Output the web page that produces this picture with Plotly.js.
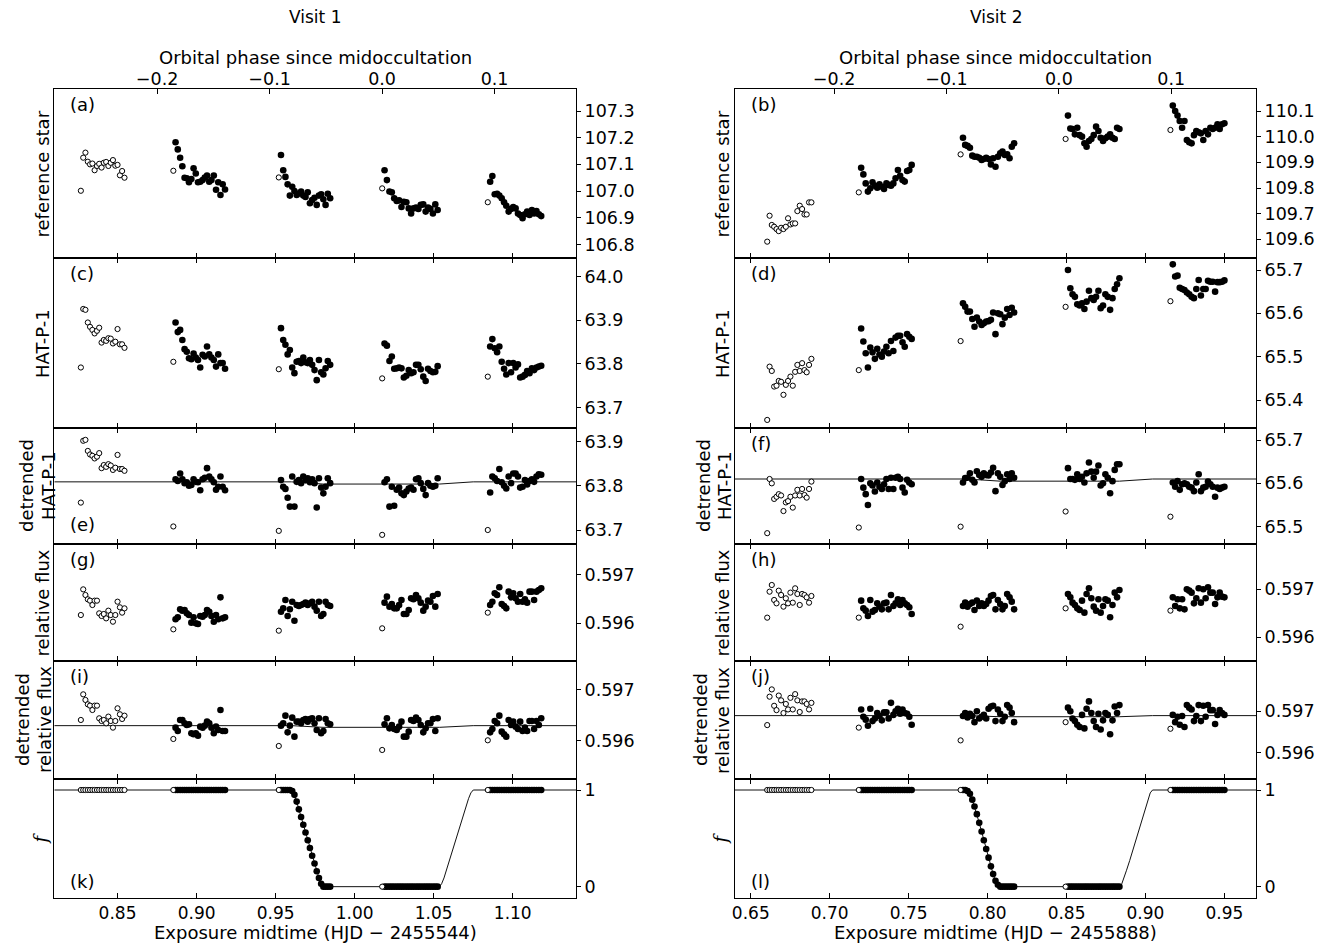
<!DOCTYPE html>
<html><head><meta charset="utf-8">
<script src="https://cdn.plot.ly/plotly-3.0.1.min.js"></script>
<style>html,body{margin:0;padding:0;background:#fff;}</style>
</head><body>
<div id="chart" style="width:1325px;height:943px;"></div>
<script>
// ---------------- DATA: Visit 1 ----------------
const v1_time = [
0.8268,0.8283,0.8297,0.8312,0.8326,0.8341,0.8355,0.8370,0.8384,0.8399,0.8413,0.8428,0.8442,0.8457,0.8471,0.8486,0.8500,0.8515,0.8529,0.8544,
0.8853,0.8867,0.8881,0.8896,0.8910,0.8924,0.8938,0.8952,0.8967,0.8981,0.8995,0.9009,0.9023,0.9038,0.9052,0.9066,0.9080,0.9094,0.9109,0.9123,0.9137,0.9151,0.9165,0.9180,
0.9520,0.9534,0.9548,0.9562,0.9576,0.9590,0.9605,0.9619,0.9633,0.9647,0.9661,0.9675,0.9689,0.9703,0.9717,0.9731,0.9746,0.9760,0.9774,0.9788,0.9802,0.9816,0.9830,0.9845,
1.0174,1.0189,1.0204,1.0220,1.0235,1.0250,1.0266,1.0281,1.0296,1.0311,1.0327,1.0342,1.0357,1.0372,1.0388,1.0403,1.0418,1.0434,1.0449,1.0464,1.0479,1.0495,1.0510,1.0525,
1.0842,1.0857,1.0871,1.0886,1.0901,1.0915,1.0930,1.0945,1.0959,1.0974,1.0989,1.1003,1.1018,1.1033,1.1047,1.1062,1.1077,1.1091,1.1106,1.1121,1.1135,1.1150,1.1165,1.1180];
const v1_orbitStarts = [0, 20, 44, 68, 92];
const v1_ref = [
107.001,107.125,107.144,107.110,107.100,107.103,107.078,107.094,107.102,107.088,107.106,107.109,107.094,107.106,107.116,107.095,107.098,107.059,107.075,107.050,
107.076,107.183,107.156,107.125,107.093,107.050,107.048,107.033,107.045,107.085,107.066,107.033,107.035,107.041,107.051,107.058,107.035,107.041,107.058,107.005,107.033,106.985,107.025,107.006,
107.051,107.135,107.078,107.053,107.025,106.983,107.016,107.000,106.985,106.991,106.998,106.983,106.978,106.995,106.954,106.966,106.975,106.948,106.983,106.988,106.969,106.948,106.990,106.973,
107.010,107.078,107.041,106.998,106.995,106.973,106.963,106.965,106.940,106.960,106.958,106.935,106.916,106.935,106.938,106.933,106.948,106.950,106.923,106.938,106.933,106.916,106.950,106.929,
106.958,107.035,107.056,106.988,106.990,106.983,106.973,106.958,106.945,106.923,106.933,106.940,106.935,106.916,106.910,106.898,106.913,106.923,106.910,106.929,106.916,106.925,106.913,106.906];
const v1_hat = [
63.792,63.926,63.924,63.895,63.885,63.878,63.870,63.876,63.883,63.849,63.855,63.853,63.859,63.858,63.847,63.851,63.880,63.845,63.845,63.837,
63.805,63.895,63.873,63.878,63.855,63.834,63.828,63.813,63.811,63.824,63.815,63.809,63.792,63.821,63.817,63.840,63.822,63.815,63.809,63.794,63.822,63.802,63.802,63.789,
63.788,63.882,63.855,63.844,63.822,63.832,63.792,63.779,63.805,63.807,63.802,63.815,63.804,63.802,63.809,63.798,63.786,63.763,63.809,63.781,63.776,63.790,63.807,63.798,
63.767,63.847,63.842,63.807,63.817,63.789,63.790,63.792,63.790,63.769,63.773,63.786,63.779,63.781,63.798,63.798,63.788,63.771,63.761,63.789,63.784,63.781,63.782,63.795,
63.771,63.840,63.857,63.836,63.827,63.840,63.805,63.789,63.776,63.802,63.781,63.802,63.792,63.799,63.769,63.771,63.775,63.784,63.779,63.790,63.786,63.792,63.794,63.796];
const v1_hatDet = [
63.762,63.902,63.904,63.879,63.871,63.868,63.862,63.866,63.874,63.840,63.847,63.843,63.849,63.846,63.836,63.841,63.870,63.838,63.838,63.834,
63.708,63.815,63.811,63.828,63.815,63.806,63.808,63.800,63.802,63.815,63.809,63.808,63.790,63.815,63.818,63.840,63.821,63.815,63.808,63.791,63.798,63.821,63.798,63.790,
63.698,63.813,63.798,63.793,63.773,63.753,63.821,63.753,63.809,63.813,63.806,63.821,63.813,63.817,63.808,63.815,63.806,63.751,63.817,63.796,63.783,63.798,63.817,63.806,
63.689,63.808,63.815,63.753,63.798,63.755,63.791,63.796,63.783,63.779,63.787,63.794,63.796,63.791,63.815,63.817,63.806,63.793,63.779,63.806,63.800,63.798,63.800,63.817,
63.700,63.785,63.821,63.817,63.811,63.838,63.808,63.800,63.794,63.821,63.806,63.828,63.828,63.821,63.796,63.798,63.813,63.803,63.811,63.815,63.809,63.821,63.826,63.825];
const v1_rel = [
0.596172,0.596703,0.596586,0.596497,0.596469,0.596379,0.596469,0.596469,0.596207,0.596152,0.596193,0.596103,0.596262,0.596172,0.596034,0.596172,0.596448,0.596331,0.596221,0.596310,
0.595876,0.596083,0.596124,0.596290,0.596262,0.596276,0.596207,0.596172,0.596014,0.596124,0.596000,0.595986,0.596152,0.596138,0.596172,0.596276,0.596241,0.596152,0.596034,0.596172,0.596083,0.596538,0.596103,0.596124,
0.595848,0.596241,0.596310,0.596483,0.596152,0.596290,0.596448,0.596055,0.596379,0.596359,0.596379,0.596400,0.596428,0.596379,0.596414,0.596448,0.596345,0.596262,0.596448,0.596152,0.596193,0.596448,0.596379,0.596359,
0.595897,0.596428,0.596552,0.596345,0.596400,0.596310,0.596310,0.596379,0.596483,0.596193,0.596193,0.596276,0.596517,0.596497,0.596586,0.596517,0.596428,0.596262,0.596345,0.596469,0.596448,0.596566,0.596345,0.596607,
0.596221,0.596379,0.596448,0.596621,0.596586,0.596745,0.596400,0.596359,0.596310,0.596655,0.596538,0.596621,0.596517,0.596448,0.596607,0.596448,0.596497,0.596428,0.596655,0.596655,0.596483,0.596655,0.596690,0.596724];
const v1_relDet = [
0.596408,0.596914,0.596803,0.596717,0.596691,0.596605,0.596691,0.596691,0.596441,0.596388,0.596408,0.596342,0.596474,0.596388,0.596257,0.596388,0.596638,0.596520,0.596428,0.596493,
0.596033,0.596257,0.596191,0.596408,0.596408,0.596342,0.596309,0.596322,0.596145,0.596125,0.596145,0.596099,0.596276,0.596257,0.596296,0.596375,0.596342,0.596257,0.596145,0.596276,0.596211,0.596605,0.596191,0.596191,
0.595895,0.596296,0.596342,0.596493,0.596164,0.596296,0.596454,0.596079,0.596375,0.596375,0.596342,0.596408,0.596428,0.596375,0.596428,0.596441,0.596342,0.596211,0.596441,0.596145,0.596191,0.596428,0.596342,0.596322,
0.595816,0.596322,0.596441,0.596243,0.596309,0.596230,0.596211,0.596276,0.596375,0.596079,0.596079,0.596178,0.596408,0.596388,0.596454,0.596408,0.596309,0.596164,0.596243,0.596342,0.596342,0.596428,0.596191,0.596441,
0.596007,0.596164,0.596230,0.596388,0.596342,0.596493,0.596178,0.596125,0.596079,0.596408,0.596309,0.596375,0.596276,0.596230,0.596375,0.596191,0.596257,0.596191,0.596388,0.596388,0.596230,0.596388,0.596309,0.596441];
const v1_f = [
1,1,1,1,1,1,1,1,1,1,1,1,1,1,1,1,1,1,1,1,
1,1,1,1,1,1,1,1,1,1,1,1,1,1,1,1,1,1,1,1,1,1,1,1,
1,1,1,1,1,1,0.99,0.95,0.88,0.80,0.72,0.64,0.56,0.48,0.40,0.32,0.24,0.16,0.09,0.03,0,0,0,0,
0,0,0,0,0,0,0,0,0,0,0,0,0,0,0,0,0,0,0,0,0,0,0,0,
1,1,1,1,1,1,1,1,1,1,1,1,1,1,1,1,1,1,1,1,1,1,1,1];
// eclipse model curves (visit 1)
const v1_modelTime = [0.81,0.9595,0.9605,0.9619,0.9633,0.9647,0.9661,0.9675,0.9689,0.9703,0.9717,0.9731,0.9746,0.9760,0.9774,0.9788,0.9805,1.0536,1.0550,1.0565,1.0580,1.0600,1.0620,1.0640,1.0660,1.0680,1.0700,1.0720,1.0735,1.0750,1.14];
const v1_modelF = [1,1,0.99,0.95,0.88,0.80,0.72,0.64,0.56,0.48,0.40,0.32,0.24,0.16,0.09,0.03,0,0,0.03,0.09,0.17,0.27,0.38,0.49,0.60,0.71,0.82,0.91,0.97,1,1];
const v1_detTime = [0.81,0.960,0.980,1.0536,1.075,1.14];
const v1_hatModel = [63.809,63.809,63.804,63.804,63.809,63.809];
const v1_relModel = [0.596296,0.596296,0.596263,0.596263,0.596296,0.596296];

// ---------------- DATA: Visit 2 ----------------
const v2_time = [
0.6604,0.6619,0.6633,0.6648,0.6663,0.6677,0.6692,0.6707,0.6722,0.6736,0.6751,0.6766,0.6781,0.6795,0.6810,0.6825,0.6840,0.6854,0.6869,0.6884,
0.7184,0.7199,0.7213,0.7228,0.7242,0.7257,0.7271,0.7286,0.7301,0.7315,0.7330,0.7344,0.7359,0.7373,0.7388,0.7403,0.7417,0.7432,0.7446,0.7461,0.7475,0.7490,0.7504,0.7519,
0.7829,0.7844,0.7858,0.7873,0.7888,0.7903,0.7917,0.7932,0.7947,0.7962,0.7976,0.7991,0.8006,0.8021,0.8035,0.8050,0.8065,0.8080,0.8094,0.8109,0.8124,0.8139,0.8153,0.8168,
0.8494,0.8509,0.8524,0.8538,0.8553,0.8568,0.8583,0.8598,0.8613,0.8627,0.8642,0.8657,0.8672,0.8687,0.8702,0.8716,0.8731,0.8746,0.8761,0.8776,0.8791,0.8805,0.8820,0.8835,
0.9158,0.9173,0.9188,0.9203,0.9217,0.9232,0.9247,0.9262,0.9277,0.9292,0.9307,0.9322,0.9337,0.9351,0.9366,0.9381,0.9396,0.9411,0.9426,0.9441,0.9456,0.9470,0.9485,0.9500];
const v2_orbitStarts = [0, 20, 44, 68, 92];
const v2_ref = [
109.591,109.692,109.656,109.649,109.640,109.632,109.645,109.640,109.649,109.682,109.658,109.662,109.662,109.710,109.731,109.718,109.697,109.697,109.744,109.744,
109.783,109.879,109.853,109.818,109.786,109.799,109.822,109.809,109.801,109.814,109.805,109.796,109.818,109.812,109.809,109.818,109.838,109.870,109.848,109.831,109.825,109.866,109.870,109.890,
109.931,109.996,109.968,109.964,109.957,109.926,109.922,109.922,109.918,109.909,109.913,109.918,109.913,109.892,109.916,109.883,109.922,109.935,109.942,109.929,109.931,109.916,109.961,109.974,
109.991,110.082,110.032,110.030,110.009,110.035,110.006,110.000,109.974,109.961,109.983,109.991,110.006,110.039,110.022,109.996,109.983,109.994,110.000,110.009,109.996,109.991,110.035,110.030,
110.026,110.121,110.100,110.082,110.061,110.035,110.061,109.987,109.978,109.974,110.006,110.022,110.017,110.013,109.987,110.022,110.009,110.035,110.030,110.035,110.048,110.030,110.048,110.052];
const v2_hat = [
65.354,65.477,65.467,65.431,65.433,65.444,65.442,65.412,65.435,65.444,65.454,65.433,65.465,65.481,65.467,65.485,65.469,65.464,65.481,65.495,
65.469,65.565,65.535,65.508,65.475,65.521,65.510,65.495,65.518,65.505,65.500,65.512,65.523,65.508,65.536,65.513,65.544,65.548,65.548,65.533,65.523,65.552,65.546,65.541,
65.536,65.623,65.615,65.604,65.604,65.587,65.569,65.590,65.581,65.573,65.577,65.581,65.582,65.585,65.602,65.552,65.600,65.598,65.575,65.590,65.610,65.596,65.613,65.602,
65.615,65.700,65.658,65.644,65.638,65.621,65.618,65.623,65.610,65.627,65.652,65.635,65.631,65.638,65.652,65.612,65.618,65.644,65.638,65.608,65.635,65.656,65.667,65.681,
65.628,65.713,65.685,65.687,65.659,65.656,65.654,65.648,65.644,65.638,65.635,65.656,65.677,65.641,65.656,65.656,65.675,65.673,65.673,65.650,65.672,65.672,65.673,65.676];
const v2_hatDet = [
65.485,65.610,65.600,65.564,65.569,65.575,65.572,65.536,65.556,65.559,65.569,65.544,65.572,65.585,65.572,65.587,65.573,65.567,65.587,65.604,
65.498,65.610,65.590,65.575,65.550,65.600,65.595,65.581,65.602,65.592,65.587,65.598,65.610,65.587,65.613,65.587,65.613,65.615,65.610,65.590,65.579,65.608,65.602,65.598,
65.500,65.602,65.612,65.613,65.623,65.608,65.602,65.628,65.619,65.615,65.623,65.619,65.618,65.625,65.636,65.582,65.623,65.615,65.596,65.605,65.621,65.610,65.623,65.613,
65.535,65.635,65.610,65.610,65.608,65.621,65.610,65.615,65.602,65.623,65.648,65.627,65.613,65.627,65.641,65.595,65.600,65.621,65.613,65.577,65.605,65.631,65.644,65.644,
65.523,65.602,65.592,65.605,65.585,65.598,65.600,65.598,65.592,65.590,65.582,65.602,65.621,65.582,65.590,65.592,65.604,65.598,65.592,65.569,65.590,65.587,65.590,65.592];
const v2_rel = [
0.596410,0.596951,0.597090,0.596778,0.596708,0.596972,0.596882,0.596639,0.596813,0.596708,0.596931,0.596722,0.597021,0.596903,0.596674,0.596903,0.596882,0.596833,0.596722,0.596861,
0.596410,0.596764,0.596604,0.596556,0.596444,0.596778,0.596535,0.596569,0.596708,0.596639,0.596583,0.596708,0.596722,0.596583,0.596882,0.596653,0.596708,0.596792,0.596674,0.596778,0.596708,0.596674,0.596625,0.596486,
0.596222,0.596653,0.596722,0.596639,0.596694,0.596722,0.596569,0.596764,0.596653,0.596708,0.596653,0.596694,0.596764,0.596861,0.596882,0.596583,0.596778,0.596694,0.596583,0.596653,0.596903,0.596833,0.596743,0.596583,
0.596604,0.596903,0.596833,0.596722,0.596674,0.596604,0.596569,0.596764,0.596514,0.596903,0.597021,0.596813,0.596639,0.596556,0.596792,0.596514,0.596653,0.596792,0.596764,0.596417,0.596674,0.596931,0.596833,0.596986,
0.596556,0.596833,0.596653,0.596792,0.596604,0.596792,0.596583,0.597000,0.596972,0.596931,0.596708,0.596813,0.597021,0.596722,0.597000,0.596813,0.597042,0.596931,0.596931,0.596694,0.596833,0.596931,0.596847,0.596833];
const v2_relDet = [
0.596664,0.597354,0.597531,0.597133,0.597027,0.597381,0.597265,0.596956,0.597177,0.597044,0.597327,0.597044,0.597416,0.597265,0.596982,0.597239,0.597239,0.597177,0.597044,0.597204,
0.596602,0.597044,0.596867,0.596796,0.596646,0.597062,0.596761,0.596823,0.596956,0.596885,0.596779,0.596973,0.596973,0.596823,0.597204,0.596912,0.597000,0.597062,0.596938,0.597044,0.596956,0.596938,0.596867,0.596673,
0.596292,0.596885,0.596956,0.596850,0.596938,0.596885,0.596735,0.597000,0.596823,0.596867,0.596912,0.596823,0.597062,0.597115,0.597133,0.596761,0.597044,0.596938,0.596761,0.596867,0.597150,0.597088,0.596956,0.596735,
0.596735,0.597088,0.597000,0.596823,0.596761,0.596673,0.596619,0.596912,0.596584,0.597062,0.597239,0.596956,0.596761,0.596619,0.596938,0.596558,0.596779,0.596956,0.596912,0.596442,0.596779,0.597115,0.596956,0.597150,
0.596575,0.596912,0.596735,0.596867,0.596673,0.596885,0.596619,0.597150,0.597088,0.597044,0.596761,0.596885,0.597150,0.596761,0.597133,0.596867,0.597150,0.597027,0.597027,0.596690,0.596912,0.597027,0.596956,0.596912];
const v2_f = [
1,1,1,1,1,1,1,1,1,1,1,1,1,1,1,1,1,1,1,1,
1,1,1,1,1,1,1,1,1,1,1,1,1,1,1,1,1,1,1,1,1,1,1,1,
1,1,1,0.99,0.96,0.90,0.83,0.75,0.66,0.57,0.48,0.39,0.30,0.21,0.13,0.06,0.02,0,0,0,0,0,0,0,
0,0,0,0,0,0,0,0,0,0,0,0,0,0,0,0,0,0,0,0,0,0,0,0,
1,1,1,1,1,1,1,1,1,1,1,1,1,1,1,1,1,1,1,1,1,1,1,1];
const v2_modelTime = [0.64,0.7868,0.7873,0.7888,0.7903,0.7917,0.7932,0.7947,0.7962,0.7976,0.7991,0.8006,0.8021,0.8035,0.8050,0.8065,0.8082,0.8835,0.8850,0.8865,0.8880,0.8900,0.8920,0.8940,0.8960,0.8980,0.9000,0.9015,0.9030,0.9045,0.97];
const v2_modelF = [1,1,0.99,0.96,0.90,0.83,0.75,0.66,0.57,0.48,0.39,0.30,0.21,0.13,0.06,0.02,0,0,0.03,0.09,0.17,0.27,0.38,0.49,0.60,0.71,0.82,0.91,0.97,1,1];
const v2_detTime = [0.64,0.787,0.808,0.8835,0.9045,0.97];
const v2_hatModel = [65.610,65.610,65.605,65.605,65.610,65.610];
const v2_relModel = [0.596894,0.596894,0.596867,0.596867,0.596894,0.596894];

// ---------------- Tick labels ----------------
const v1_timeTicks = [0.85,0.90,0.95,1.00,1.05,1.10];
const v1_timeTickText = ['0.85','0.90','0.95','1.00','1.05','1.10'];
const v2_timeTicks = [0.65,0.70,0.75,0.80,0.85,0.90,0.95];
const v2_timeTickText = ['0.65','0.70','0.75','0.80','0.85','0.90','0.95'];
const phaseTicks = [-0.2,-0.1,0.0,0.1];
const phaseTickText = ['\u22120.2','\u22120.1','0.0','0.1'];
const v1_refTicks = [106.8,106.9,107.0,107.1,107.2,107.3];
const v2_refTicks = [109.6,109.7,109.8,109.9,110.0,110.1];
const v1_hatTicks = [63.7,63.8,63.9,64.0];
const v2_hatTicks = [65.4,65.5,65.6,65.7];
const v1_hatDetTicks = [63.7,63.8,63.9];
const v2_hatDetTicks = [65.5,65.6,65.7];
const fluxTicks = [0.596,0.597];
const fTicks = [0,1];
const rowLabels = [['reference star'],['HAT-P-1'],['detrended','HAT-P-1'],['relative flux'],['detrended','relative flux'],['<i>f</i>']];
const panelLetters = ['(a)','(b)','(c)','(d)','(e)','(f)','(g)','(h)','(i)','(j)','(k)','(l)'];

// ---------------- Layout helpers ----------------
const W = 1325, H = 943;
const FONT = 'DejaVu Sans, Verdana, sans-serif';
const colPx = [[54.3, 576], [735, 1256]];
const rowPx = [[89,258],[258,428],[428,544],[544,661],[661,779],[779,898]];
const xRanges = [[0.81,1.14],[0.64,0.97]];
const phaseRanges = [[-0.2914,0.1724],[-0.2882,0.1754]];
const yRanges = [
  [[106.749,107.3825],[109.5273,110.1857]],
  [[63.6534,64.0427],[65.3354,65.7277]],
  [[63.6683,63.9309],[65.4600,65.7277]],
  [[0.595221,0.597641],[0.595507,0.597944]],
  [[0.595243,0.597572],[0.595354,0.598221]],
  [[-0.1172,1.1138],[-0.1172,1.1138]]
];
// centre x (px) of each row-label line, per column
const labelCentres = [
  [[42],[42],[27,49],[42],[22,44],[40]],
  [[722],[722],[704,725],[722],[700,722],[720]]
];
const visits = [
  {time:v1_time, starts:v1_orbitStarts, series:[v1_ref,v1_hat,v1_hatDet,v1_rel,v1_relDet,v1_f],
   lines:[null,null,[v1_detTime,v1_hatModel],null,[v1_detTime,v1_relModel],[v1_modelTime,v1_modelF]],
   yticks:[v1_refTicks,v1_hatTicks,v1_hatDetTicks,fluxTicks,fluxTicks,fTicks],
   xticks:v1_timeTicks, xtext:v1_timeTickText, xlabel:'Exposure midtime (HJD \u2212 2455544)', title:'Visit 1'},
  {time:v2_time, starts:v2_orbitStarts, series:[v2_ref,v2_hat,v2_hatDet,v2_rel,v2_relDet,v2_f],
   lines:[null,null,[v2_detTime,v2_hatModel],null,[v2_detTime,v2_relModel],[v2_modelTime,v2_modelF]],
   yticks:[v2_refTicks,v2_hatTicks,v2_hatDetTicks,fluxTicks,fluxTicks,fTicks],
   xticks:v2_timeTicks, xtext:v2_timeTickText, xlabel:'Exposure midtime (HJD \u2212 2455888)', title:'Visit 2'}
];
function fmtTick(v, row){
  if (row===5) return String(v);
  if (row>=3) return v.toFixed(3);
  return v.toFixed(1);
}
const px2x = p => p / W;
const px2y = p => 1 - p / H;

const traces = [];
const layout = {
  width: W, height: H, margin:{l:0,r:0,t:0,b:0},
  paper_bgcolor:'#fff', plot_bgcolor:'#fff', showlegend:false,
  font:{family:FONT, size:18, color:'#000'},
  annotations:[]
};
const tickFont = {family:FONT, size:17.5, color:'#000'};
const bottomTickFont = {family:FONT, size:17, color:'#000'};

for (let row=0; row<6; row++){
  for (let col=0; col<2; col++){
    const p = row*2 + col, n = p+1;
    const xs = n===1 ? '' : String(n);
    const V = visits[col];
    const xName = 'x'+xs, yName = 'y'+xs;
    layout['xaxis'+xs] = {
      domain:[px2x(colPx[col][0]), px2x(colPx[col][1])], anchor:yName,
      range:xRanges[col], autorange:false, showline:true, linecolor:'#000', linewidth:1,
      mirror: row===0 ? true : 'ticks', ticks:'inside', ticklen:5, tickwidth:1, tickcolor:'#000',
      tickmode:'array', tickvals:V.xticks, ticktext:V.xtext, showticklabels: row===5,
      tickfont:bottomTickFont, showgrid:false, zeroline:false, fixedrange:true
    };
    const yt = V.yticks[row];
    layout['yaxis'+xs] = {
      domain:[px2y(rowPx[row][1]), px2y(rowPx[row][0])], anchor:xName, side:'right',
      range:yRanges[row][col], autorange:false, showline:true, linecolor:'#000', linewidth:1,
      mirror:true, ticks:'outside', ticklen:4, tickwidth:1, tickcolor:'#000',
      tickmode:'array', tickvals:yt, ticktext:yt.map(v=>fmtTick(v,row)),
      tickfont:tickFont, showgrid:false, zeroline:false, fixedrange:true
    };
    // model line
    const ln = V.lines[row];
    if (ln){
      traces.push({type:'scatter', mode:'lines', x:ln[0], y:ln[1], xaxis:xName, yaxis:yName,
        line:{color:'#111', width:1}, hoverinfo:'skip'});
    }
    // points
    const ys = V.series[row];
    const ox=[], oy=[], fx=[], fy=[];
    V.time.forEach((t,i)=>{
      const excluded = i < V.starts[1] || V.starts.includes(i);
      if (excluded){ ox.push(t); oy.push(ys[i]); } else { fx.push(t); fy.push(ys[i]); }
    });
    traces.push({type:'scatter', mode:'markers', x:fx, y:fy, xaxis:xName, yaxis:yName,
      marker:{symbol:'circle', size:6.6, color:'#000', line:{width:0}}, hoverinfo:'skip'});
    traces.push({type:'scatter', mode:'markers', x:ox, y:oy, xaxis:xName, yaxis:yName,
      marker:{symbol:'circle', size:5.2, color:'#fff', line:{color:'#000', width:1}}, hoverinfo:'skip'});

    // panel letter
    const bottomLetter = (p===4 || p===10 || p===11);
    const ly = bottomLetter ? (rowPx[row][1] - (p===4 ? 20 : 17)) : (rowPx[row][0] + 15);
    layout.annotations.push({text:panelLetters[p], xref:'paper', yref:'paper',
      x:px2x(colPx[col][0]+14), y:px2y(ly), xanchor:'left', yanchor:'middle', showarrow:false,
      font:{family:FONT, size:18, color:'#000'}});
    // row label lines (left of panel)
    const isF = row===5;
    rowLabels[row].forEach((txt, k)=>{
      layout.annotations.push({text:txt, xref:'paper', yref:'paper',
        x:px2x(labelCentres[col][row][k]), y:px2y((rowPx[row][0]+rowPx[row][1])/2),
        xanchor:'center', yanchor:'middle', textangle:-90, showarrow:false,
        font:{family: isF ? 'DejaVu Serif, serif' : FONT, size:18, color:'#000'}});
    });
  }
}
// top orbital-phase axes
[0,1].forEach(col=>{
  const nm = col===0 ? '13' : '14';
  layout['xaxis'+nm] = {
    overlaying: col===0 ? 'x' : 'x2', anchor: col===0 ? 'y' : 'y2', side:'top',
    range:phaseRanges[col], autorange:false, showline:false, ticks:'inside', ticklen:5, tickwidth:1,
    tickcolor:'#000', tickmode:'array', tickvals:phaseTicks, ticktext:phaseTickText,
    tickfont:tickFont, showgrid:false, zeroline:false, fixedrange:true
  };
  traces.push({type:'scatter', mode:'markers', x:[phaseTicks[0]], y:[null], xaxis:'x'+nm, yaxis: col===0?'y':'y2',
    marker:{opacity:0}, hoverinfo:'skip'});
  const cx = (colPx[col][0]+colPx[col][1])/2;
  layout.annotations.push({text:visits[col].title, xref:'paper', yref:'paper', x:px2x(cx), y:px2y(17),
    xanchor:'center', yanchor:'middle', showarrow:false, font:{family:FONT, size:17, color:'#000'}});
  layout.annotations.push({text:'Orbital phase since midoccultation', xref:'paper', yref:'paper', x:px2x(cx), y:px2y(58),
    xanchor:'center', yanchor:'middle', showarrow:false, font:{family:FONT, size:18, color:'#000'}});
  layout.annotations.push({text:visits[col].xlabel, xref:'paper', yref:'paper', x:px2x(cx), y:px2y(932),
    xanchor:'center', yanchor:'middle', showarrow:false, font:{family:FONT, size:18, color:'#000'}});
});

Plotly.newPlot('chart', traces, layout, {staticPlot:true, displayModeBar:false});
</script>
</body></html>
